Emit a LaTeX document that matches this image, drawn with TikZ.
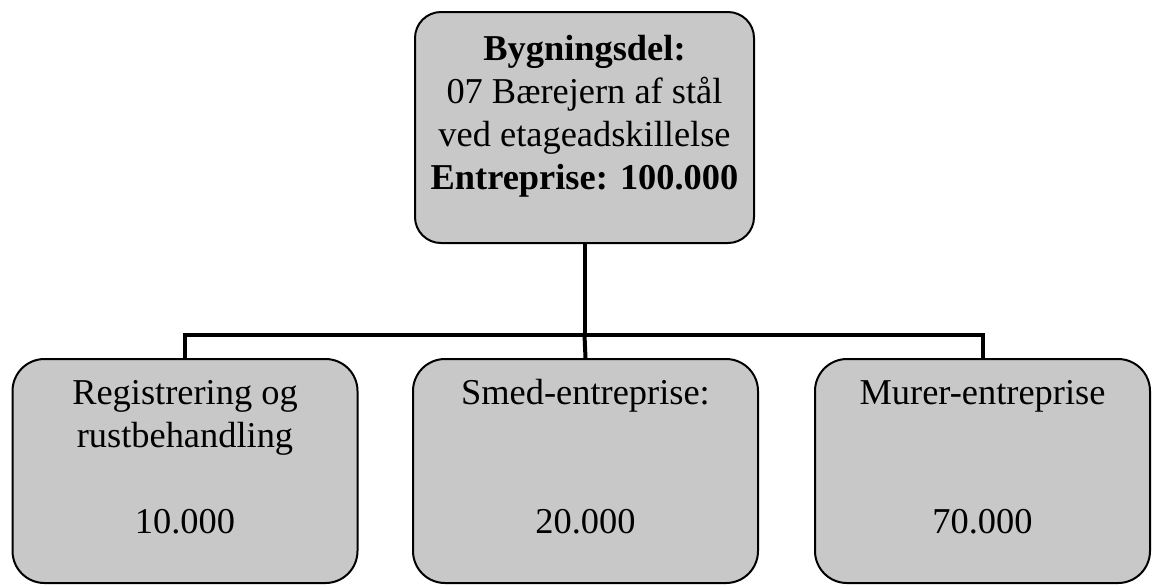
\documentclass[tikz,border=0pt]{standalone}
\usepackage{fontspec}
\setmainfont{Liberation Serif}
\usetikzlibrary{calc}
\definecolor{boxGray}{RGB}{200,200,200}
\newcommand{\boxLines}[1]{\begin{tabular}{@{}c@{}}#1\\[11pt]\end{tabular}}
\tikzset{
  boxTop/.style={draw=black, line width=1pt, fill=boxGray, rounded corners=13pt,
    minimum width=169.5pt, minimum height=115.5pt, inner sep=0pt,
    font=\fontsize{18.2}{21.5}\selectfont},
  boxSub/.style={boxTop, rounded corners=16pt, minimum width=172.5pt, minimum height=112pt},
  link/.style={draw=black, line width=2pt}
}

\begin{document}
\begin{tikzpicture}[x=0.5pt, y=-0.5pt]
    \useasboundingbox (0,0) rectangle (1152,586);
    % top
    \node[boxTop] (part) at (584.5,127.5) {\boxLines{\textbf{Bygningsdel:}\\07 Bærejern af stål\\ved etageadskillelse\\\textbf{Entreprise: 100.000}}};
    % children
    \node[boxSub] (reg) at (185,471) {\boxLines{Registrering og\\rustbehandling\\\\10.000}};
    \node[boxSub] (smed) at (585.5,471) {\boxLines{Smed-entreprise:\\\\\\20.000}};
    \node[boxSub, minimum width=167.5pt] (murer) at (982.5,471) {\boxLines{Murer-entreprise\\\\\\70.000}};
    % lines
    \coordinate (split) at (584.5,335);
    \draw[link] (part.south) -- (split);
    \draw[link] (reg.north) |- (split) -| (murer.north);
    \draw[link] (split) -- (smed.north);
\end{tikzpicture}
\end{document}
